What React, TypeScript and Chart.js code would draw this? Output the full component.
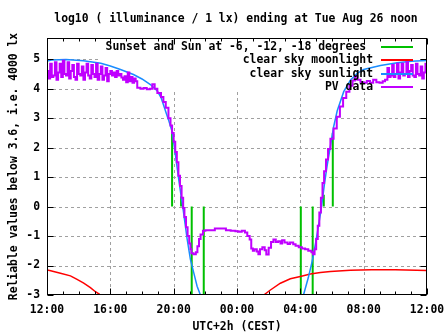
import React, { useEffect, useRef } from "react";
import { Chart, registerables } from "chart.js";

Chart.register(...registerables);

const FONT = "'DejaVu Sans Mono', 'Liberation Mono', monospace";
const FONT_SIZE = 11.4;

const titleText = "log10 ( illuminance / 1 lx) ending at Tue Aug 26 noon";
const xTitleText = "UTC+2h (CEST)";
const yTitleText = "Reliable values below 3.6, i.e. 4000 lx";

const xTickHours = [0, 4, 8, 12, 16, 20, 24];
const xTickLabels = ["12:00", "16:00", "20:00", "00:00", "04:00", "08:00", "12:00"];
const yTickValues = [-3, -2, -1, 0, 1, 2, 3, 4, 5];
const yMin = -3;
const yMax = 5.72;

const legendLabels = [
  "Sunset and Sun at -6, -12, -18 degrees ",
  "clear sky moonlight",
  "clear sky sunlight",
  "PV data",
];
const GREEN = "#00c000";
const RED = "#ff0000";
const BLUE = "#1a8cff";
const PURPLE = "#c000ff";
const legendColors = [GREEN, RED, BLUE, PURPLE];

// Sun events: sunset, -6, -12, -18 (evening), -18, -12, -6, sunrise (morning); hours after 12:00
const sunEventHours = [7.9, 8.47, 9.14, 9.9, 16.03, 16.78, 17.48, 18.05];
const sunEventTops = [2.55, 0.35, -3, -3, -3, -3, 0.4, 2.5];

// clear sky sunlight
const sunHours = [0, 0.3, 1.2, 2.3, 3.4, 4.0, 4.64, 5.46, 6.0, 6.53, 6.97, 7.2, 7.35, 7.5, 7.67, 7.9, 8.05, 8.2, 8.35, 8.5, 8.6, 8.7, 8.85, 9.06, 9.27, 9.48, 9.69,
  16.2, 16.51, 16.75, 16.96, 17.16, 17.3, 17.4, 17.52, 17.68, 17.9, 18.1, 18.33, 18.74, 19.17, 19.59, 20.0, 21.06, 22.12, 23.0, 24];
const sunValues = [4.94, 4.97, 4.99, 4.95, 4.86, 4.77, 4.65, 4.48, 4.33, 4.14, 3.92, 3.7, 3.46, 3.22, 2.95, 2.55, 2.0, 1.4, 0.8, 0.25, -0.1, -0.5, -1.1, -1.8, -2.25, -2.7, -3.0,
  -3.0, -2.4, -1.85, -1.25, -0.6, -0.15, 0.25, 0.75, 1.35, 2.05, 2.7, 3.25, 3.9, 4.3, 4.52, 4.65, 4.79, 4.88, 4.93, 4.96];

// clear sky moonlight (null = below the plot)
const moonHours = [0, 0.17, 0.85, 1.48, 1.9, 2.32, 2.74, 3.06, 3.33, 3.4, 8,
  13.69, 14.11, 14.74, 15.37, 16.0, 16.63, 17.27, 17.9, 19.16, 20.5, 22, 24];
const moonValues = [-2.15, -2.17, -2.26, -2.35, -2.47, -2.6, -2.75, -2.89, -2.98, -3.0, null,
  -3.0, -2.83, -2.6, -2.45, -2.37, -2.29, -2.24, -2.2, -2.16, -2.14, -2.14, -2.17];

// PV data
const pvHours = [
  0.0, 0.1, 0.2, 0.3, 0.4, 0.5, 0.6, 0.7, 0.8, 0.9, 1.0, 1.1, 1.2, 1.3, 1.4, 1.5, 1.6, 1.7, 1.8, 1.9,
  2.0, 2.1, 2.2, 2.3, 2.4, 2.5, 2.6, 2.7, 2.8, 2.9, 3.0, 3.1, 3.2, 3.3, 3.4, 3.5, 3.6, 3.7, 3.8, 3.9,
  4.0, 4.1, 4.2, 4.3, 4.4, 4.5, 4.6, 4.7, 4.8, 4.9, 5.0, 5.1, 5.2, 5.3, 5.4, 5.5, 5.6,
  5.7, 5.9, 6.1, 6.3, 6.5, 6.65, 6.8, 6.97, 7.2, 7.35, 7.5, 7.67, 7.8, 7.9, 8.0, 8.1, 8.2, 8.3, 8.4, 8.5,
  8.6, 8.68, 8.78, 8.88, 8.98, 9.06, 9.12, 9.25, 9.4, 9.5, 9.6, 9.7, 9.85, 10.0, 10.3, 10.6, 11.0, 11.3,
  11.6, 11.9, 12.1, 12.3, 12.5, 12.65, 12.8, 12.9, 13.0, 13.1, 13.25, 13.35, 13.45, 13.6, 13.75, 13.85,
  14.0, 14.15, 14.3, 14.45, 14.6, 14.75, 14.85, 15.0, 15.2, 15.35, 15.55, 15.7, 15.9, 16.1, 16.3, 16.5,
  16.7, 16.8, 16.9, 17.0, 17.1, 17.2, 17.3, 17.4, 17.5, 17.62, 17.75, 17.9, 18.1, 18.3, 18.5, 18.7, 18.9,
  19.1, 19.3, 19.45, 19.6, 19.8, 20.0, 20.2, 20.4, 20.6, 20.8, 21.0, 21.2, 21.35,
  21.5, 21.6, 21.7, 21.8, 21.9, 22.0, 22.1, 22.2, 22.3, 22.4, 22.5, 22.6, 22.7, 22.8, 22.9, 23.0,
  23.1, 23.2, 23.3, 23.4, 23.5, 23.6, 23.7, 23.8, 23.9, 24.0,
];
const pvValues = [
  4.6, 4.35, 4.85, 4.4, 4.45, 4.9, 4.3, 4.55, 4.85, 4.4, 4.95, 4.5, 4.45, 4.9, 4.35, 4.6, 4.8, 4.4, 4.3, 4.85,
  4.5, 4.45, 4.75, 4.3, 4.55, 4.85, 4.45, 4.35, 4.8, 4.5, 4.4, 4.85, 4.3, 4.5, 4.75, 4.3, 4.45, 4.7, 4.25, 4.5,
  4.6, 4.45, 4.55, 4.4, 4.6, 4.45, 4.5, 4.38, 4.3, 4.42, 4.22, 4.55, 4.25, 4.4, 4.2, 4.35, 4.25,
  4.03, 4.0, 4.02, 3.98, 4.0, 4.15, 4.0, 3.85, 3.72, 3.55, 3.35, 3.0, 2.75, 2.5, 2.2, 1.85, 1.5, 1.05, 0.7, 0.3,
  -0.05, -0.35, -0.7, -1.0, -1.25, -1.45, -1.58, -1.62, -1.55, -1.35, -1.1, -0.95, -0.82, -0.8, -0.8, -0.74, -0.74, -0.8,
  -0.82, -0.84, -0.85, -0.82, -0.88, -1.0, -1.12, -1.42, -1.5, -1.45, -1.52, -1.62, -1.45, -1.38, -1.48, -1.63,
  -1.4, -1.2, -1.12, -1.2, -1.18, -1.25, -1.14, -1.22, -1.27, -1.22, -1.28, -1.33, -1.38, -1.42, -1.45, -1.5,
  -1.55, -1.62, -1.45, -1.1, -0.65, -0.2, 0.3, 0.8, 1.2, 1.6, 1.95, 2.3, 2.65, 3.05, 3.4, 3.68, 3.9,
  4.1, 4.28, 4.42, 4.3, 4.22, 4.2, 4.26, 4.2, 4.3, 4.22, 4.2, 4.25, 4.3,
  4.7, 4.4, 4.45, 4.8, 4.4, 4.5, 4.85, 4.35, 4.55, 4.85, 4.45, 4.5, 4.9, 4.4, 4.6, 4.8,
  4.45, 4.4, 4.85, 4.5, 4.45, 4.75, 4.35, 4.55, 4.85, 4.5,
];

function pairs(xs: number[], ys: (number | null)[]) {
  return xs.map((x, i) => ({ x, y: ys[i] }));
}

function eventLines() {
  const out: { x: number; y: number | null }[] = [];
  sunEventHours.forEach((h, i) => {
    out.push({ x: h, y: 0 });
    out.push({ x: h, y: sunEventTops[i] });
    out.push({ x: h, y: null });
  });
  return out;
}

const fontStr = `bold ${FONT_SIZE}px ${FONT}`;

const gnuplotPlugin = {
  id: "gnuplotDecor",
  beforeDatasetsDraw(chart: any) {
    const { ctx, chartArea: a, scales } = chart;
    const x = scales.x;
    const y = scales.y;
    ctx.save();
    ctx.strokeStyle = "#a0a0a0";
    ctx.lineWidth = 1;
    ctx.setLineDash([3, 3]);
    for (const h of xTickHours) {
      if (h === 0 || h === 24) continue;
      const px = Math.round(x.getPixelForValue(h)) + 0.5;
      ctx.beginPath();
      ctx.moveTo(px, a.top);
      ctx.lineTo(px, a.bottom);
      ctx.stroke();
    }
    for (const v of yTickValues) {
      if (v === yMin) continue;
      const py = Math.round(y.getPixelForValue(v)) + 0.5;
      ctx.beginPath();
      ctx.moveTo(a.left, py);
      ctx.lineTo(a.right, py);
      ctx.stroke();
    }
    ctx.setLineDash([]);
    // key box blanks the grid
    ctx.fillStyle = "#ffffff";
    ctx.fillRect(99, a.top + 1, 420 - 99, 91 - a.top);
    ctx.restore();
  },
  afterDatasetsDraw(chart: any) {
    const { ctx, chartArea: a, scales } = chart;
    const x = scales.x;
    const y = scales.y;
    ctx.save();
    ctx.strokeStyle = "#000";
    ctx.lineWidth = 1;
    const L = Math.round(a.left) + 0.5;
    const R = Math.round(a.right) - 0.5;
    const T = Math.round(a.top) + 0.5;
    const B = Math.round(a.bottom) - 0.5;
    ctx.strokeRect(L, T, R - L, B - T);
    ctx.beginPath();
    for (let h = 0; h <= 24; h++) {
      const px = Math.round(x.getPixelForValue(h)) + 0.5;
      const len = h % 4 === 0 ? 6 : 3;
      ctx.moveTo(px, B);
      ctx.lineTo(px, B - len);
      ctx.moveTo(px, T);
      ctx.lineTo(px, T + len);
    }
    for (const v of yTickValues) {
      const py = Math.round(y.getPixelForValue(v)) + 0.5;
      ctx.moveTo(L, py);
      ctx.lineTo(L + 6, py);
      ctx.moveTo(R, py);
      ctx.lineTo(R - 6, py);
    }
    ctx.stroke();

    ctx.fillStyle = "#000";
    ctx.font = fontStr;
    ctx.textBaseline = "middle";
    const rowY = [47, 60.3, 73.6, 87];
    legendLabels.forEach((lab, i) => {
      ctx.textAlign = "right";
      ctx.fillStyle = "#000";
      ctx.fillText(lab, 373, rowY[i]);
      ctx.strokeStyle = legendColors[i];
      ctx.lineWidth = 2;
      ctx.beginPath();
      ctx.moveTo(381, Math.round(rowY[i]));
      ctx.lineTo(413, Math.round(rowY[i]));
      ctx.stroke();
    });
    ctx.fillStyle = "#000";
    ctx.textAlign = "center";
    ctx.fillText(titleText, 236, 19);
    ctx.fillText(xTitleText, (a.left + a.right) / 2, 327);
    ctx.translate(14, (a.top + a.bottom) / 2);
    ctx.rotate(-Math.PI / 2);
    ctx.fillText(yTitleText, 0, 0);
    ctx.restore();
  },
};

export default function App() {
  const ref = useRef<HTMLCanvasElement | null>(null);
  useEffect(() => {
    if (!ref.current) return;
    const tickFont = { family: FONT, size: FONT_SIZE, weight: "bold" as const };
    const chart = new Chart(ref.current, {
      type: "line",
      data: {
        datasets: [
          {
            label: legendLabels[3],
            data: pairs(pvHours, pvValues),
            borderColor: PURPLE,
            borderWidth: 2,
            pointRadius: 0,
            stepped: true,
            order: 0,
          },
          {
            label: legendLabels[2],
            data: pairs(sunHours, sunValues),
            borderColor: BLUE,
            borderWidth: 1.5,
            pointRadius: 0,
            order: 1,
          },
          {
            label: legendLabels[1],
            data: pairs(moonHours, moonValues),
            borderColor: RED,
            borderWidth: 1.5,
            pointRadius: 0,
            order: 2,
          },
          {
            label: legendLabels[0],
            data: eventLines(),
            borderColor: GREEN,
            borderWidth: 2,
            pointRadius: 0,
            order: 3,
          },
        ],
      },
      options: {
        responsive: false,
        animation: false,
        layout: { padding: { top: 38, right: 20, left: 0, bottom: 0 } },
        plugins: {
          legend: { display: false },
          tooltip: { enabled: false },
          title: { display: false },
        },
        scales: {
          x: {
            type: "linear",
            min: 0,
            max: 24,
            grid: { display: false, drawTicks: false },
            border: { display: false },
            ticks: {
              font: tickFont,
              color: "#000",
              padding: 8,
              maxRotation: 0,
              autoSkip: false,
              callback: (v: any) => {
                const i = xTickHours.indexOf(Number(v));
                return i >= 0 ? xTickLabels[i] : "";
              },
            },
            afterBuildTicks: (s: any) => {
              s.ticks = xTickHours.map((v) => ({ value: v }));
            },
            afterFit: (s: any) => {
              s.height = 40;
              s.paddingLeft = 0;
              s.paddingRight = 0;
            },
          },
          y: {
            type: "linear",
            min: yMin,
            max: yMax,
            grid: { display: false, drawTicks: false },
            border: { display: false },
            ticks: {
              font: tickFont,
              color: "#000",
              padding: 7,
              callback: (v: any) => String(v),
            },
            afterBuildTicks: (s: any) => {
              s.ticks = yTickValues.map((v) => ({ value: v }));
            },
            afterFit: (s: any) => {
              s.width = 47;
              s.paddingTop = 0;
              s.paddingBottom = 0;
            },
          },
        },
      },
      plugins: [gnuplotPlugin],
    });
    return () => chart.destroy();
  }, []);
  return (
    <div style={{ position: "absolute", left: 0, top: 0, width: 447, height: 335, background: "#fff" }}>
      <canvas ref={ref} width={447} height={335} />
    </div>
  );
}
